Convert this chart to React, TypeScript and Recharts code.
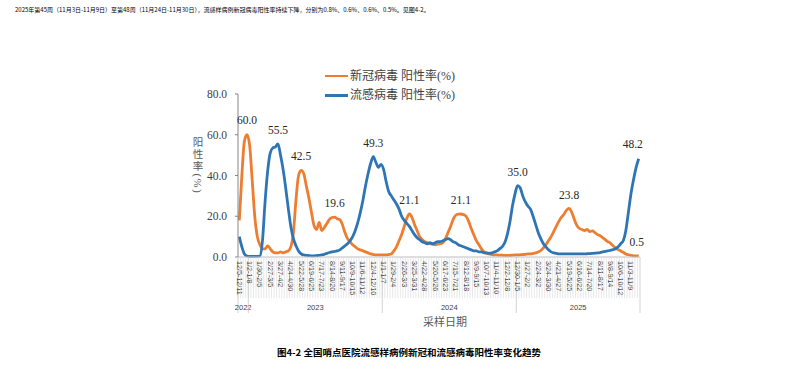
import { LabelList, Legend, Line, LineChart, XAxis, YAxis } from "recharts";

// Weekly sentinel-hospital ILI positivity, 2022 wk49 (12/5-12/11) .. 2025 wk48 (11/24-11/30)
const WEEK_COUNT = 156;

// 新冠病毒 阳性率(%)
const COVID = [
  18, 40, 57, 60.0, 55, 38, 20, 10, 6, 4,
  4, 5.5, 4, 2.5, 2, 2, 2.5, 2, 2.5, 3,
  5, 12, 28, 40, 42.5, 41, 35, 29, 22, 15.5,
  13.5, 17, 13, 14.5, 16.5, 18.5, 19.4, 19.6, 18.8, 18.3,
  16, 12, 9, 7.5, 6, 5, 4, 3.5, 3, 2.5,
  2, 1.5, 1.2, 1, 1, 1, 1, 1, 1.2, 1.5,
  3, 5, 8, 11, 15, 19, 21.1, 19.5, 16, 13,
  10, 8.5, 7.5, 7, 6.5, 6.3, 6, 6.3, 6.5, 7,
  9, 12, 15, 18.5, 20.5, 21, 21.1, 20.8, 20, 17.5,
  14, 11, 8, 6, 4, 2.5, 1.8, 1.5, 1.2, 1,
  1, 0.9, 0.9, 0.8, 0.8, 0.8, 0.9, 1, 1, 1.1,
  1.2, 1.3, 1.5, 1.5, 1.7, 2, 2.5, 3.2, 4.5, 6,
  8, 10, 12.5, 15, 17.5, 19.5, 21, 23, 23.8, 22,
  18.5, 15.5, 14, 13.5, 13, 13.5, 12.5, 12.8, 12, 11,
  10.5, 9.5, 8.5, 7.5, 6.8, 5.5, 4.5, 3.6, 3, 2.3,
  1.5, 1.1, 0.8, 0.6, 0.6, 0.5,
];

// 流感病毒 阳性率(%)
const FLU = [
  10, 5, 1.5, 0.5, 0.3, 0.3, 0.3, 0.3, 0.5, 8,
  27, 42, 51, 53.5, 54, 55.5, 50, 43, 34, 24,
  15, 9, 5.5, 3, 1.5, 1, 0.8, 0.7, 0.6, 0.6,
  0.7, 0.8, 1, 1.3, 1.8, 2.2, 2.5, 2.7, 3, 3.5,
  4.5, 5.5, 6.5, 8, 10, 13, 17, 22, 28, 35,
  41, 46, 49.3, 46.5, 44, 45.5, 43, 37, 32, 30,
  28, 26, 23.5, 20, 18, 16.5, 15, 13, 11, 9.5,
  8.5, 7.5, 7, 6.5, 7, 6.5, 7, 7.5, 7.5, 8,
  8.5, 9, 8.5, 7.5, 7, 6, 5.5, 5, 4.5, 4,
  3.5, 3, 3, 2.5, 2.5, 2, 2, 1.8, 2, 2.5,
  3, 4, 5, 7, 11, 17, 25, 31, 35.0, 34,
  30, 27, 25, 23.5, 20, 16, 12, 9, 6.5, 5,
  3.5, 2.5, 2, 1.8, 1.5, 1.5, 1.5, 1.5, 1.5, 1.5,
  1.5, 1.5, 1.5, 1.5, 1.5, 1.6, 1.7, 1.8, 1.9, 2,
  2.2, 2.5, 2.8, 3, 3.3, 3.6, 4, 5, 6.5, 8,
  13, 22, 31, 38, 44, 48.2,
];

// every 4th week carries a label
const TICK_LABELS = [
  "12/5-12/11", "1/2-1/8", "1/30-2/5", "2/27-3/5", "3/27-4/2", "4/24-4/30",
  "5/22-5/28", "6/19-6/25", "7/17-7/23", "8/14-8/20", "9/11-9/17", "10/9-10/15",
  "11/6-11/12", "12/4-12/10", "1/1-1/7", "1/29-2/4", "2/26-3/3", "3/25-3/31",
  "4/22-4/28", "5/20-5/26", "6/17-6/23", "7/15-7/21", "8/12-8/18", "9/9-9/15",
  "10/7-10/13", "11/4-11/10", "12/2-12/8", "12/30-1/5", "1/27-2/2", "2/24-3/2",
  "3/24-3/30", "4/21-4/27", "5/19-5/25", "6/16-6/22", "7/14-7/20", "8/11-8/17",
  "9/8-9/14", "10/6-10/12", "11/3-11/9",
];

const YEARS = ["2022", "2023", "2024", "2025"];
const YEAR_START_WEEK = [0, 4, 56, 108];

// weeks that get a value label
const COVID_LABELED = [3, 24, 37, 66, 86, 128, 155];
const FLU_LABELED = [15, 52, 108, 155];

const SERIES = [
  { key: "covid", name: "新冠病毒 阳性率(%)", color: "#ED7D31" },
  { key: "flu", name: "流感病毒 阳性率(%)", color: "#2E75B6" },
];

const data = COVID.map((c, i) => ({ week: i, covid: c, flu: FLU[i] }));

// layout
const PLOT_LEFT = 238;
const PLOT_WIDTH = 402;
const BW = PLOT_WIDTH / WEEK_COUNT;
const SERIF = '"Liberation Serif", "Times New Roman", serif';
const SERIF_CJK = '"Liberation Serif", "Noto Sans CJK SC", serif';
const CJK = '"Noto Sans CJK SC", sans-serif';

const LABEL_NUDGE: Record<string, [number, number]> = {
  "covid-3": [0, -15],
  "covid-155": [-2, -14],
  "flu-155": [-6, -15],
};

function WeekTick(props: any) {
  const { x, y, payload } = props;
  const i = Number(payload.value);
  const edge = x - BW / 2;
  const yearIdx = YEAR_START_WEEK.indexOf(i);
  const groupEnd = yearIdx >= 0 ? (YEAR_START_WEEK[yearIdx + 1] ?? WEEK_COUNT) : 0;
  return (
    <g>
      <line x1={edge} x2={edge} y1={y} y2={y + 41} stroke="#d9d9d9" strokeWidth={0.6} />
      {yearIdx >= 0 && (
        <line x1={edge} x2={edge} y1={y} y2={y + 56} stroke="#c8c8c8" strokeWidth={0.8} />
      )}
      {i === WEEK_COUNT - 1 && (
        <line x1={x + BW / 2} x2={x + BW / 2} y1={y} y2={y + 56} stroke="#c8c8c8" strokeWidth={0.8} />
      )}
      {i % 4 === 0 && (
        <text
          x={x}
          y={y + 4}
          transform={`rotate(90 ${x} ${y + 4})`}
          dominantBaseline="central"
          fontSize={7.2}
          fontFamily='"Liberation Sans", sans-serif'
          fill="#404040"
        >
          {TICK_LABELS[i / 4]}
        </text>
      )}
      {yearIdx >= 0 && (
        <text
          x={edge + ((groupEnd - i) * BW) / 2}
          y={y + 50}
          textAnchor="middle"
          dominantBaseline="central"
          fontSize={7.5}
          fontFamily='"Liberation Sans", sans-serif'
          fill="#404040"
        >
          {YEARS[yearIdx]}
        </text>
      )}
    </g>
  );
}

// stacked vertical title: CJK upright, "(%)" turned, as in the source
function YTitle() {
  return (
    <text
      x={197}
      y={136.5}
      fontSize={10.5}
      fontFamily={SERIF_CJK}
      fill="#595959"
      style={{ writingMode: "vertical-rl", letterSpacing: 1.8 }}
    >
      阳性率(%)
    </text>
  );
}

function XTitle() {
  return (
    <text x={445} y={321} textAnchor="middle" dominantBaseline="central" fontSize={11} fontFamily={CJK} fill="#595959">
      采样日期
    </text>
  );
}

function valueLabel(seriesKey: string, weeks: number[]) {
  return (p: any) => {
    const idx = p.index;
    if (!weeks.includes(idx)) return null;
    const [dx, dy] = LABEL_NUDGE[`${seriesKey}-${idx}`] ?? [0, -14];
    const px = p.x ?? p.viewBox?.x;
    const py = p.y ?? p.viewBox?.y;
    return (
      <text
        key={`${seriesKey}-${idx}`}
        x={px + dx}
        y={py + dy}
        textAnchor="middle"
        dominantBaseline="central"
        fontSize={11.5}
        fontFamily={SERIF}
        fill="#262626"
      >
        {Number(p.value).toFixed(1)}
      </text>
    );
  };
}

function LegendBox() {
  return (
    <div style={{ fontFamily: SERIF_CJK, fontSize: 12, color: "#404040", lineHeight: 1 }}>
      {SERIES.map((s) => (
        <div key={s.key} style={{ display: "flex", alignItems: "center", height: 19.5 }}>
          <span style={{ display: "inline-block", width: 23, height: 2.5, background: s.color, marginRight: 2 }} />
          <span>{s.name}</span>
        </div>
      ))}
    </div>
  );
}

export default function App() {
  return (
    <div style={{ position: "absolute", left: 0, top: 0, width: 800, height: 370, background: "#fff" }}>
      <div
        style={{
          position: "absolute",
          left: 15,
          top: 6,
          fontFamily: CJK,
          fontSize: 6,
          lineHeight: "8px",
          color: "#000",
          whiteSpace: "nowrap",
        }}
      >
        2025年第45周（11月3日-11月9日）至第48周（11月24日-11月30日），流感样病例新冠病毒阳性率持续下降，分别为0.8%、0.6%、0.6%、0.5%。见图4-2。
      </div>

      <LineChart
        width={800}
        height={370}
        data={data}
        margin={{ top: 94, right: 160, bottom: 53, left: PLOT_LEFT - 60 }}
      >
        <XAxis
          dataKey="week"
          type="category"
          interval={0}
          height={60}
          padding={{ left: BW / 2, right: BW / 2 }}
          tickLine={false}
          tickSize={0}
          tickMargin={0}
          tick={<WeekTick />}
          axisLine={{ stroke: "#bfbfbf" }}
          label={<XTitle />}
        />
        <YAxis
          width={60}
          domain={[0, 80]}
          ticks={[0, 20, 40, 60, 80]}
          tickFormatter={(v: number) => v.toFixed(1)}
          tick={{ fontSize: 11.5, fontFamily: SERIF, fill: "#404040" }}
          axisLine={{ stroke: "#868686" }}
          tickLine={{ stroke: "#868686" }}
          tickSize={3}
          tickMargin={8}
          label={<YTitle />}
        />
        <Legend
          layout="vertical"
          align="center"
          verticalAlign="middle"
          content={<LegendBox />}
          wrapperStyle={{ position: "absolute", top: 66, left: 325, width: 200, height: 40 }}
        />
        {SERIES.map((s) => (
          <Line
            key={s.key}
            type="monotone"
            dataKey={s.key}
            name={s.name}
            stroke={s.color}
            strokeWidth={2.8}
            dot={false}
            isAnimationActive={false}
          >
            <LabelList dataKey={s.key} content={valueLabel(s.key, s.key === "covid" ? COVID_LABELED : FLU_LABELED)} />
          </Line>
        ))}
      </LineChart>

      <div
        style={{
          position: "absolute",
          left: 277,
          top: 346,
          fontFamily: CJK,
          fontSize: 9.5,
          fontWeight: 700,
          color: "#000",
          whiteSpace: "nowrap",
          lineHeight: "12px",
        }}
      >
        图4-2 全国哨点医院流感样病例新冠和流感病毒阳性率变化趋势
      </div>
    </div>
  );
}
